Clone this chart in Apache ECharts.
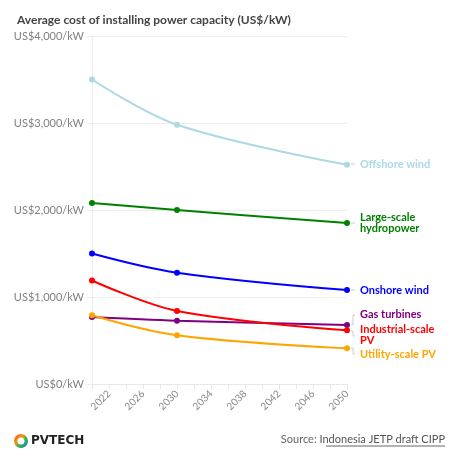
<!DOCTYPE html>
<html>
<head>
<meta charset="utf-8">
<script src="https://cdn.jsdelivr.net/npm/echarts@6/dist/echarts.min.js"></script>
<style>
html,body{margin:0;padding:0;background:#fff;}
#c{width:460px;height:460px;}
</style>
</head>
<body>
<div id="c"></div>
<script>
const years = [2020, 2030, 2050];
const seriesNames = ['Offshore wind', 'Large-scale\nhydropower', 'Onshore wind', 'Gas turbines', 'Industrial-scale\nPV', 'Utility-scale PV'];
const offshoreWind = [3500, 2980, 2520];
const hydropower = [2080, 2000, 1850];
const onshoreWind = [1500, 1280, 1080];
const gasTurbines = [770, 728, 678];
const industrialPV = [1190, 840, 617];
const utilityPV = [790, 560, 410];
const yTicks = [0, 1000, 2000, 3000, 4000];
const xLabelYears = [2022, 2026, 2030, 2034, 2038, 2042, 2046, 2050];

const colors = ['#add8e6', '#008000', '#0000ff', '#800080', '#ff0000', '#ffa500'];
const allValues = [offshoreWind, hydropower, onshoreWind, gasTurbines, industrialPV, utilityPV];
const labelDy = [0, 0, 0, -11, 5, 6];
const font = 'Lato, "Open Sans", sans-serif';

const chart = echarts.init(document.getElementById('c'));
const series = allValues.map((vals, i) => ({
  name: seriesNames[i],
  type: 'line',
  smooth: 0.35,
  symbol: 'circle',
  symbolSize: 6,
  color: colors[i],
  lineStyle: { width: 2 },
  data: vals.map((v, j) => {
    const item = { value: [years[j], v] };
    if (j === vals.length - 1) {
      item.label = {
        show: true,
        position: 'right',
        distance: 10,
        formatter: seriesNames[i],
        color: colors[i],
        fontFamily: font,
        fontWeight: 'bold',
        fontSize: 11,
        lineHeight: 11
      };
    }
    return item;
  }),
  labelLayout: { dy: labelDy[i] },
  emphasis: { disabled: true },
  animation: false
}));

chart.setOption({
  animation: false,
  textStyle: { fontFamily: font },
  title: {
    text: 'Average cost of installing power capacity (US$/kW)',
    left: 12, top: 9,
    textStyle: { fontSize: 12, fontWeight: 'bold', color: '#444', fontFamily: font }
  },
  grid: { left: 92, right: 113, top: 36, bottom: 76 },
  xAxis: {
    type: 'value',
    min: 2020, max: 2050, interval: 2,
    axisLine: { show: true, lineStyle: { color: '#e8e8e8' } },
    axisTick: { show: true, length: 5, lineStyle: { color: '#e8e8e8' } },
    splitLine: { show: false },
    axisLabel: {
      rotate: 45,
      color: '#888',
      fontSize: 10,
      margin: 8,
      showMinLabel: true,
      showMaxLabel: true,
      formatter: v => xLabelYears.indexOf(v) >= 0 ? String(v) : ''
    }
  },
  yAxis: {
    type: 'value',
    min: yTicks[0], max: yTicks[yTicks.length - 1], interval: 1000,
    axisLine: { show: true, lineStyle: { color: '#ececec' } },
    axisTick: { show: true, length: 5, lineStyle: { color: '#ececec' } },
    splitLine: { show: true, lineStyle: { color: '#efefef' } },
    axisLabel: {
      color: '#808080', fontSize: 11, margin: 8,
      formatter: v => 'US$' + v.toLocaleString('en-US') + '/kW'
    }
  },
  series: series,
  graphic: [
    { type: 'line', shape: { x1: 351, y1: 164, x2: 355, y2: 164 }, style: { stroke: '#ccc', lineWidth: 1 } },
    { type: 'line', shape: { x1: 351, y1: 223, x2: 355, y2: 223 }, style: { stroke: '#ccc', lineWidth: 1 } },
    { type: 'line', shape: { x1: 351, y1: 290, x2: 355, y2: 290 }, style: { stroke: '#ccc', lineWidth: 1 } },
    { type: 'polyline', shape: { points: [[355, 315], [353, 315], [353, 325], [351, 325]] }, style: { stroke: '#ccc', lineWidth: 1, fill: null } },
    { type: 'polyline', shape: { points: [[351, 331], [353, 331], [353, 336], [355, 336]] }, style: { stroke: '#ccc', lineWidth: 1, fill: null } },
    { type: 'polyline', shape: { points: [[351, 348], [353, 348], [353, 354], [355, 354]] }, style: { stroke: '#ccc', lineWidth: 1, fill: null } },
    { type: 'ring', shape: { cx: 21, cy: 441, r: 7, r0: 3.5 }, style: { fill: {
      type: 'linear', x: 0, y: 0, x2: 1, y2: 1,
      colorStops: [{ offset: 0, color: '#e8312f' }, { offset: 0.35, color: '#f39c12' }, { offset: 0.65, color: '#27ae60' }, { offset: 1, color: '#2e6fd8' }]
    } } },
    { type: 'text', left: 31, top: 435, style: { text: 'PVTECH', font: 'bold 12px "DejaVu Sans", sans-serif', fill: '#222' } },
    { type: 'text', right: 15, top: 434, style: {
      text: '{a|Source: }{b|Indonesia JETP draft CIPP}',
      font: '11px ' + font,
      rich: {
        a: { fontSize: 11, fontFamily: font, fill: '#666' },
        b: { fontSize: 11, fontFamily: font, fill: '#555' }
      }
    } },
    { type: 'line', shape: { x1: 326, y1: 446, x2: 445, y2: 446 }, style: { stroke: '#666', lineWidth: 1 } }
  ]
});
</script>
</body>
</html>
